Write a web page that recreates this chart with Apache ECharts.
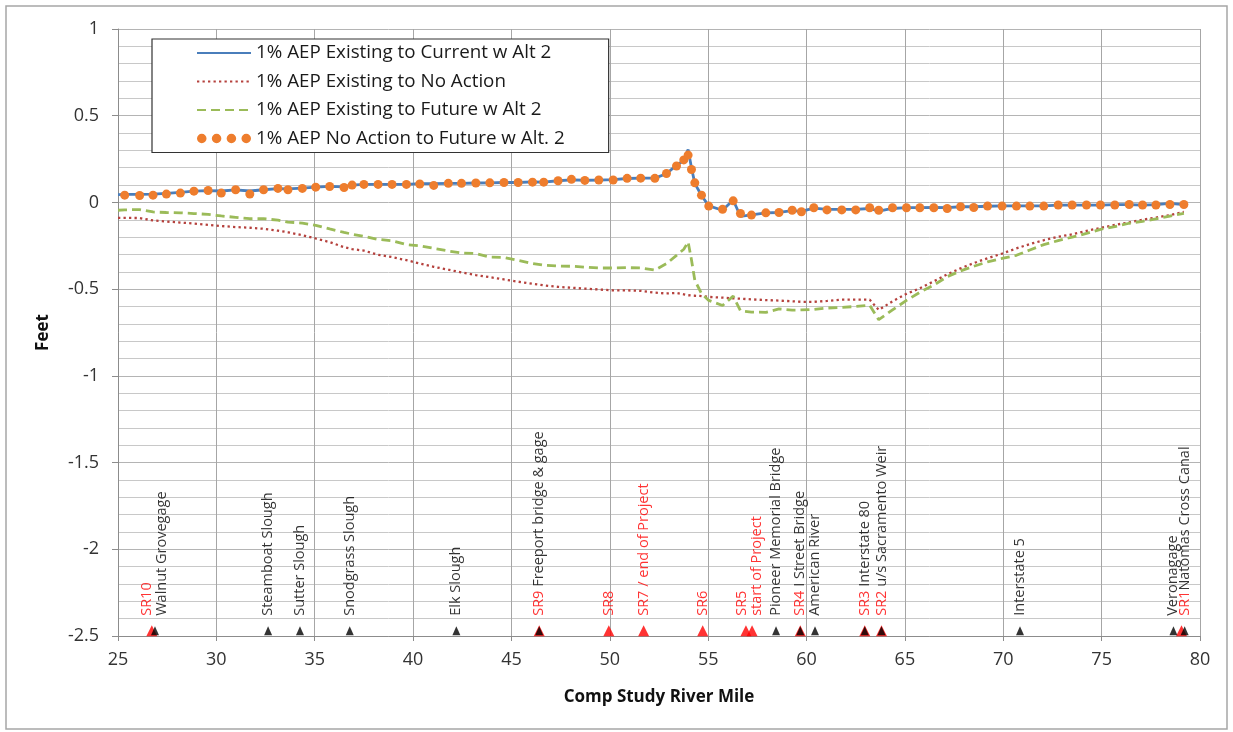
<!DOCTYPE html>
<html><head><meta charset="utf-8">
<script src="https://cdn.jsdelivr.net/npm/echarts@6/dist/echarts.min.js"></script>
<style>html,body{margin:0;padding:0;background:#fff}#c{width:1233px;height:732px}</style>
</head><body><div id="c"></div><script>
// River mile stations
const miles = [25.0, 25.34, 26.1, 26.78, 27.46, 28.17, 28.86, 29.58, 30.25, 30.98, 31.7, 32.4, 33.13, 33.64, 34.37, 35.05, 35.76, 36.49, 36.9, 37.5, 38.22, 38.93, 39.66, 40.34, 41.05, 41.79, 42.46, 43.19, 43.9, 44.62, 45.34, 46.07, 46.64, 47.37, 48.05, 48.73, 49.44, 50.17, 50.88, 51.57, 52.29, 52.88, 53.39, 53.76, 53.98, 54.15, 54.32, 54.66, 55.03, 55.73, 56.27, 56.64, 57.2, 57.93, 58.6, 59.27, 59.74, 60.37, 61.04, 61.79, 62.5, 63.21, 63.67, 64.37, 65.08, 65.76, 66.47, 67.15, 67.83, 68.5, 69.2, 69.94, 70.67, 71.35, 72.06, 72.79, 73.5, 74.23, 74.94, 75.67, 76.4, 77.08, 77.76, 78.47, 79.18];

// 1% AEP Existing to Current w Alt 2
const existingToCurrentAlt2 = [0.045, 0.046, 0.046, 0.048, 0.052, 0.058, 0.065, 0.068, 0.066, 0.072, 0.066, 0.073, 0.080, 0.078, 0.082, 0.088, 0.092, 0.090, 0.100, 0.104, 0.104, 0.104, 0.104, 0.108, 0.108, 0.110, 0.110, 0.112, 0.113, 0.115, 0.115, 0.118, 0.117, 0.125, 0.130, 0.128, 0.129, 0.132, 0.138, 0.140, 0.140, 0.165, 0.215, 0.240, 0.305, 0.200, 0.110, 0.040, -0.020, -0.045, 0.014, -0.080, -0.072, -0.060, -0.058, -0.047, -0.052, -0.033, -0.040, -0.040, -0.040, -0.035, -0.050, -0.035, -0.030, -0.030, -0.028, -0.030, -0.025, -0.025, -0.022, -0.020, -0.020, -0.020, -0.020, -0.016, -0.016, -0.015, -0.016, -0.013, -0.013, -0.015, -0.013, -0.005, -0.013];

// 1% AEP Existing to No Action
const existingToNoAction = [-0.089, -0.089, -0.090, -0.104, -0.110, -0.116, -0.122, -0.129, -0.136, -0.142, -0.146, -0.152, -0.163, -0.172, -0.189, -0.208, -0.229, -0.258, -0.269, -0.278, -0.302, -0.315, -0.333, -0.352, -0.371, -0.388, -0.403, -0.419, -0.431, -0.444, -0.457, -0.469, -0.478, -0.487, -0.492, -0.497, -0.502, -0.507, -0.507, -0.510, -0.520, -0.525, -0.522, -0.530, -0.535, -0.537, -0.538, -0.540, -0.545, -0.549, -0.553, -0.555, -0.559, -0.563, -0.566, -0.570, -0.573, -0.573, -0.568, -0.561, -0.561, -0.561, -0.620, -0.570, -0.527, -0.495, -0.455, -0.415, -0.380, -0.350, -0.322, -0.295, -0.265, -0.240, -0.218, -0.198, -0.184, -0.164, -0.147, -0.130, -0.115, -0.100, -0.087, -0.073, -0.054];

// 1% AEP Existing to Future w Alt 2
const existingToFutureAlt2 = [-0.045, -0.043, -0.041, -0.055, -0.058, -0.060, -0.064, -0.069, -0.078, -0.086, -0.094, -0.094, -0.102, -0.113, -0.119, -0.132, -0.153, -0.173, -0.183, -0.196, -0.213, -0.221, -0.243, -0.250, -0.265, -0.280, -0.291, -0.295, -0.315, -0.317, -0.334, -0.352, -0.362, -0.367, -0.368, -0.373, -0.378, -0.378, -0.376, -0.378, -0.390, -0.353, -0.305, -0.270, -0.228, -0.330, -0.449, -0.525, -0.565, -0.594, -0.540, -0.625, -0.632, -0.634, -0.614, -0.621, -0.620, -0.617, -0.609, -0.605, -0.600, -0.593, -0.676, -0.620, -0.565, -0.518, -0.476, -0.428, -0.395, -0.368, -0.343, -0.323, -0.305, -0.274, -0.243, -0.220, -0.200, -0.179, -0.155, -0.139, -0.120, -0.109, -0.095, -0.079, -0.063];

// 1% AEP No Action to Future w Alt. 2
const noActionToFutureAlt2 = [null, 0.042, 0.040, 0.042, 0.048, 0.054, 0.065, 0.069, 0.054, 0.073, 0.048, 0.073, 0.081, 0.073, 0.081, 0.088, 0.092, 0.086, 0.100, 0.104, 0.104, 0.104, 0.104, 0.106, 0.098, 0.110, 0.110, 0.112, 0.113, 0.115, 0.115, 0.117, 0.117, 0.125, 0.133, 0.127, 0.129, 0.129, 0.139, 0.140, 0.139, 0.167, 0.210, 0.245, 0.273, 0.190, 0.113, 0.042, -0.021, -0.040, 0.009, -0.064, -0.073, -0.060, -0.058, -0.045, -0.054, -0.031, -0.043, -0.043, -0.043, -0.031, -0.045, -0.031, -0.031, -0.031, -0.031, -0.035, -0.025, -0.029, -0.021, -0.021, -0.021, -0.021, -0.021, -0.015, -0.015, -0.015, -0.015, -0.015, -0.012, -0.015, -0.015, -0.012, -0.012];

const seriesNames = ['1% AEP Existing to Current w Alt 2', '1% AEP Existing to No Action', '1% AEP Existing to Future w Alt 2', '1% AEP No Action to Future w Alt. 2'];

// Site markers along the river
const markerLevel = -2.47;
const srMiles = [26.72, 46.41, 49.95, 51.72, 54.72, 56.92, 57.23, 59.68, 62.96, 63.81, 79.06];
const landmarkMiles = [26.88, 32.63, 34.25, 36.78, 42.2, 46.41, 58.45, 59.68, 60.43, 62.96, 63.81, 70.85, 78.65, 79.22];
const siteLabelMiles = [26.85, 32.63, 34.25, 36.78, 42.2, 46.41, 49.95, 51.72, 54.72, 57.1, 58.45, 59.68, 60.43, 62.96, 63.81, 70.85, 78.6, 79.25];
const siteLabelTexts = [
  '{r|SR10}\n{k|Walnut Grovegage}', '{k|Steamboat Slough}', '{k|Sutter Slough}', '{k|Snodgrass Slough}',
  '{k|Elk Slough}', '{r|SR9} {k|Freeport bridge & gage}', '{r|SR8}', '{r|SR7 / end of Project}', '{r|SR6}',
  '{r|SR5}\n{r|start of Project}', '{k|Pioneer Memorial Bridge}', '{r|SR4} {k|I Street Bridge}',
  '{k|American River}', '{r|SR3} {k|Interstate 80}', '{r|SR2} {k|u/s Sacramento Weir}', '{k|Interstate 5}',
  '{k|Veronagage}', '{r|SR1}{k|Natomas Cross Canal}'
];

const FONT = '"Open Sans", "Liberation Sans", sans-serif';
const pairs = arr => miles.map((m, i) => [m, arr[i]]);

const chart = echarts.init(document.getElementById('c'), null, {renderer: 'canvas'});
chart.setOption({
  animation: false,
  backgroundColor: '#fff',
  textStyle: {fontFamily: FONT},
  graphic: [{
    type: 'rect', silent: true, z: -10,
    shape: {x: 6, y: 6, width: 1221, height: 723},
    style: {fill: 'none', stroke: '#A6A6A6', lineWidth: 1.5}
  }],
  grid: {left: 118, right: 33, top: 29, bottom: 96, containLabel: false},
  legend: {
    orient: 'vertical', left: 152, top: 39,
    selectedMode: false,
    itemWidth: 54, itemHeight: 10, itemGap: 8.5,
    padding: [4, 44, 4, 44],
    borderColor: '#333', borderWidth: 1.2, backgroundColor: '#fff',
    textStyle: {fontFamily: FONT, fontSize: 18.8, color: '#1a1a1a', lineHeight: 20},
    data: [
      {name: seriesNames[0], itemStyle: {opacity: 0}},
      {name: seriesNames[1], itemStyle: {opacity: 0}},
      {name: seriesNames[2], itemStyle: {opacity: 0}},
      {name: seriesNames[3], icon: 'path://M1,5a4.5,4.5 0 1,0 9,0a4.5,4.5 0 1,0 -9,0M15,5a4.5,4.5 0 1,0 9,0a4.5,4.5 0 1,0 -9,0M29,5a4.5,4.5 0 1,0 9,0a4.5,4.5 0 1,0 -9,0M43,5a4.5,4.5 0 1,0 9,0a4.5,4.5 0 1,0 -9,0'}
    ]
  },
  xAxis: {
    type: 'value', min: 25, max: 80, interval: 5,
    name: 'Comp Study River Mile', nameLocation: 'middle', nameGap: 53,
    nameTextStyle: {fontFamily: FONT, fontSize: 17, fontWeight: 'bold', color: '#111'},
    axisLine: {show: true, onZero: false, lineStyle: {color: '#8C8C8C', width: 1}},
    axisTick: {show: true, inside: false, length: 5, lineStyle: {color: '#8C8C8C'}},
    axisLabel: {fontFamily: FONT, fontSize: 18, color: '#333', margin: 15},
    splitLine: {show: true, lineStyle: {color: '#A6A6A6', width: 1}}
  },
  yAxis: {
    type: 'value', min: -2.5, max: 1, interval: 0.5,
    name: 'Feet', nameLocation: 'middle', nameGap: 66,
    nameTextStyle: {fontFamily: FONT, fontSize: 17, fontWeight: 'bold', color: '#111'},
    axisLine: {show: true, lineStyle: {color: '#8C8C8C', width: 1}},
    axisTick: {show: true, inside: false, length: 6, lineStyle: {color: '#8C8C8C'}},
    axisLabel: {fontFamily: FONT, fontSize: 18, color: '#333', margin: 19},
    splitLine: {show: true, lineStyle: {color: '#B4B4B4', width: 1}},
    minorTick: {show: false, splitNumber: 5},
    minorSplitLine: {show: true, lineStyle: {color: '#C8C8C8', width: 1}}
  },
  series: [
    {
      name: seriesNames[0], type: 'line', data: pairs(existingToCurrentAlt2),
      symbol: 'none', z: 4,
      lineStyle: {color: '#4A7EBB', width: 2.8}, itemStyle: {color: '#4A7EBB'}
    },
    {
      name: seriesNames[1], type: 'line', data: pairs(existingToNoAction),
      symbol: 'none', z: 3,
      lineStyle: {color: '#B5413D', width: 2.3, type: [2.3, 3.2]}, itemStyle: {color: '#B5413D'}
    },
    {
      name: seriesNames[2], type: 'line', data: pairs(existingToFutureAlt2),
      symbol: 'none', z: 3,
      lineStyle: {color: '#9BBB59', width: 2.8, type: [9, 5]}, itemStyle: {color: '#9BBB59'}
    },
    {
      name: seriesNames[3], type: 'scatter', data: pairs(noActionToFutureAlt2).filter(p => p[1] !== null),
      symbol: 'circle', symbolSize: 9, z: 5,
      itemStyle: {color: '#EE7D2D', opacity: 1}
    },
    {
      name: 'SR sites', type: 'scatter', silent: true, z: 6,
      data: srMiles.map(m => [m, markerLevel]),
      symbol: 'triangle', symbolSize: [11, 11],
      itemStyle: {color: '#FF0000'}
    },
    {
      name: 'Landmarks', type: 'scatter', silent: true, z: 7,
      data: landmarkMiles.map(m => [m, markerLevel]),
      symbol: 'triangle', symbolSize: [8, 9],
      itemStyle: {color: '#000'}
    },
    {
      name: 'Site labels', type: 'scatter', silent: true, z: 8,
      data: siteLabelMiles.map((m, i) => ({value: [m, markerLevel], label: {formatter: siteLabelTexts[i]}})),
      symbolSize: 0,
      label: {
        show: true, position: [0, -15], rotate: 90, align: 'left', verticalAlign: 'middle',
        fontFamily: FONT, fontSize: 14.5, lineHeight: 15, color: '#000',
        rich: {
          r: {color: '#FF0000', fontFamily: FONT, fontSize: 14.5, lineHeight: 15},
          k: {color: '#000', fontFamily: FONT, fontSize: 14.5, lineHeight: 15}
        }
      }
    }
  ]
});
</script></body></html>
